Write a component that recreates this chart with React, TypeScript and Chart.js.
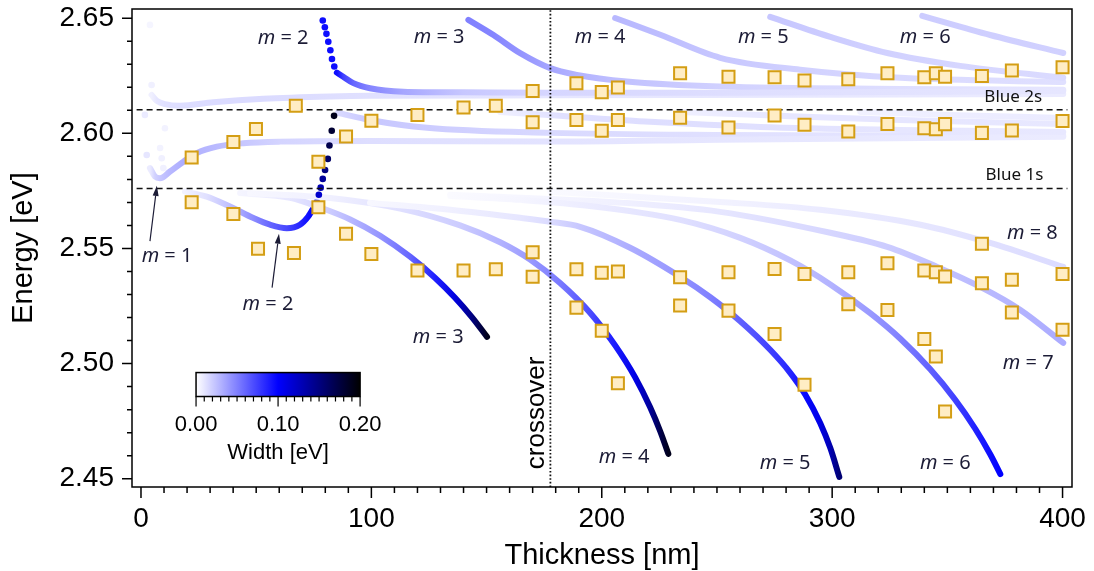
import React, { useEffect, useRef } from 'react';
import { Chart, registerables } from 'chart.js';

Chart.register(...registerables);

const AXIS_FONT = '"Liberation Sans", Arial, Helvetica, sans-serif';
const NOTE_FONT = '"Noto Sans", "Open Sans", sans-serif';

// ---- axes ----
const X_RANGE = [-3.9, 404.1];
const Y_RANGE = [2.4464, 2.654];
const X_STEP = 10;
const X_LABEL_EVERY = 100;
const Y_STEP = 0.01;
const Y_LABEL_EVERY = 0.05;

// ---- reference lines ----
const BLUE_1S = 2.576;
const BLUE_2S = 2.6102;
const REF_LINE_X = [-1.9, 402.1];
const CROSSOVER = 177.7;

// ---- measured resonances (squares) ----
const MEAS_X = [
  22.0, 22.0, 40.1, 40.1, 49.9, 50.8, 67.2, 66.4, 77.0, 77.0, 89.0, 89.0, 100.0, 100.0,
  120.0, 120.0, 140.0, 140.0, 154.0, 154.0,
  170.0, 170.0, 170.0, 170.0, 189.0, 189.0, 189.0, 189.0, 200.0, 200.0, 200.0, 200.0,
  207.0, 207.0, 207.0, 207.0, 234.0, 234.0, 234.0, 234.0, 255.0, 255.0, 255.0, 255.0,
  275.0, 275.0, 275.0, 275.0, 288.0, 288.0, 288.0, 288.0, 307.0, 307.0, 307.0, 307.0,
  324.0, 324.0, 324.0, 324.0, 340.0, 340.0, 340.0, 340.0, 345.0, 345.0, 345.0, 345.0,
  349.0, 349.0, 349.0, 349.0, 365.0, 365.0, 365.0, 365.0, 378.0, 378.0, 378.0, 378.0,
  400.0, 400.0, 400.0, 400.0,
];
const MEAS_E = [
  2.5895, 2.5701, 2.5962, 2.5650, 2.6019, 2.5499, 2.6120, 2.5480, 2.5877, 2.5679, 2.5986, 2.5564, 2.6055, 2.5476,
  2.6080, 2.5404, 2.6112, 2.5404, 2.6120, 2.5410,
  2.6184, 2.6048, 2.5484, 2.5377, 2.6218, 2.6058, 2.5410, 2.5243, 2.6179, 2.6011, 2.5395, 2.5143,
  2.6199, 2.6058, 2.5400, 2.4915, 2.6261, 2.6068, 2.5375, 2.5252, 2.6246, 2.6025, 2.5397, 2.5230,
  2.6244, 2.6077, 2.5411, 2.5128, 2.6229, 2.6037, 2.5389, 2.4908, 2.6235, 2.6008, 2.5397, 2.5258,
  2.6261, 2.6041, 2.5436, 2.5233, 2.6244, 2.6022, 2.5404, 2.5107, 2.6261, 2.6018, 2.5397, 2.5031,
  2.6246, 2.6040, 2.5378, 2.4792, 2.6249, 2.6002, 2.5520, 2.5349, 2.6273, 2.6012, 2.5364, 2.5222,
  2.6287, 2.6054, 2.5389, 2.5147,
];

// ---- calculated modes: thickness [nm], energy [eV], width [eV] ----
const M1_UP_X = [4.6, 6.9, 10.4, 16.9, 31.4, 53.1, 82.1, 99.4, 177.6, 300.0, 400.3];
const M1_UP_E = [2.6167, 2.6141, 2.6127, 2.612, 2.6135, 2.615, 2.616, 2.6163, 2.6165, 2.6168, 2.6171];
const M1_UP_W = [0.006, 0.01, 0.012, 0.013, 0.014, 0.014, 0.013, 0.012, 0.01, 0.009, 0.008];

const M1_MID_X = [3.9, 6.1, 8.25, 12.6, 18.4, 24.2, 32.9, 44.4, 60.4, 99.4, 177.6, 251.4, 400.3];
const M1_MID_E = [2.5849, 2.5812, 2.5805, 2.5834, 2.5877, 2.5914, 2.5942, 2.5957, 2.5964, 2.5967, 2.5964, 2.5972, 2.5985];
const M1_MID_W = [0.008, 0.018, 0.022, 0.028, 0.032, 0.03, 0.027, 0.022, 0.017, 0.013, 0.011, 0.01, 0.008];

const M2_LOW_X = [19.1, 28.5, 38.6, 48.8, 56.0, 63.3, 69.0, 72.6, 74.8, 76.3];
const M2_LOW_E = [2.5747, 2.5725, 2.5682, 2.5632, 2.5603, 2.5588, 2.5603, 2.5639, 2.5675, 2.5704];
const M2_LOW_W = [0.005, 0.012, 0.025, 0.045, 0.06, 0.072, 0.085, 0.095, 0.1, 0.108];

const M2_RISE_X = [77.2, 78.0, 78.9, 79.9, 81.1, 81.8, 82.8, 83.8];
const M2_RISE_E = [2.5733, 2.5764, 2.5802, 2.5841, 2.5889, 2.5947, 2.6011, 2.6076];
const M2_RISE_W = [0.12, 0.13, 0.14, 0.15, 0.16, 0.17, 0.18, 0.19];

const M2_DROP_X = [78.9, 79.8, 80.5, 81.3, 82.2, 82.9, 83.9];
const M2_DROP_E = [2.649, 2.6461, 2.6432, 2.6398, 2.6361, 2.6323, 2.629];
const M2_DROP_W = [0.095, 0.095, 0.095, 0.095, 0.095, 0.095, 0.095];

const M2_UP_X = [85.0, 87.8, 92.2, 99.4, 113.9, 140.0, 177.6, 251.4, 400.3];
const M2_UP_E = [2.6264, 2.6246, 2.6218, 2.6196, 2.6181, 2.6178, 2.6176, 2.6176, 2.6184];
const M2_UP_W = [0.095, 0.075, 0.06, 0.048, 0.035, 0.022, 0.016, 0.013, 0.01];

const M2_MID_X = [85.5, 99.4, 124.2, 177.6, 251.4, 400.3];
const M2_MID_E = [2.6089, 2.6058, 2.6024, 2.6002, 2.5993, 2.5989];
const M2_MID_W = [0.015, 0.022, 0.02, 0.015, 0.012, 0.009];

const M3_UP_X = [142.1, 153.0, 164.6, 177.6, 189.2, 210.9, 251.4, 329.6, 400.3];
const M3_UP_E = [2.6493, 2.6427, 2.6348, 2.6283, 2.6254, 2.6225, 2.6203, 2.6193, 2.6189];
const M3_UP_W = [0.05, 0.048, 0.042, 0.035, 0.03, 0.024, 0.018, 0.013, 0.01];

const M3_MID_X = [155.9, 181.9, 221.0, 268.8, 329.6, 400.3];
const M3_MID_E = [2.6093, 2.6076, 2.605, 2.6028, 2.6015, 2.6006];
const M3_MID_W = [0.006, 0.012, 0.013, 0.012, 0.01, 0.009];

const M3_LOW_X = [43.0, 64.7, 77.7, 90.8, 103.8, 116.8, 127.7, 136.3, 143.7, 150.2];
const M3_LOW_E = [2.5741, 2.572, 2.5678, 2.5626, 2.5555, 2.5464, 2.5372, 2.5286, 2.5201, 2.5116];
const M3_LOW_W = [0.004, 0.01, 0.016, 0.028, 0.042, 0.06, 0.088, 0.112, 0.15, 0.19];

const M4_UP_X = [205.8, 225.4, 251.4, 286.1, 329.6, 400.3];
const M4_UP_E = [2.6501, 2.6428, 2.6328, 2.6276, 2.6241, 2.6223];
const M4_UP_W = [0.028, 0.026, 0.022, 0.018, 0.015, 0.012];

const M4_MID_X = [234.0, 277.5, 329.6, 400.3];
const M4_MID_E = [2.6093, 2.6076, 2.6058, 2.6041];
const M4_MID_W = [0.006, 0.01, 0.01, 0.009];

const M4_LOW_X = [47.3, 82.1, 112.5, 138.5, 155.9, 168.9, 181.9, 195.0, 205.8, 214.5, 221.0, 225.4, 228.9];
const M4_LOW_E = [2.574, 2.5719, 2.5673, 2.56, 2.5527, 2.5452, 2.535, 2.522, 2.5079, 2.494, 2.481, 2.4705, 2.4608];
const M4_LOW_W = [0.003, 0.006, 0.012, 0.02, 0.03, 0.04, 0.052, 0.07, 0.09, 0.11, 0.14, 0.17, 0.19];

const M5_UP_X = [273.1, 299.2, 323.9, 355.6, 400.3];
const M5_UP_E = [2.6506, 2.6419, 2.6349, 2.6293, 2.6241];
const M5_UP_W = [0.022, 0.02, 0.018, 0.016, 0.014];

const M5_MID_X = [312.2, 355.0, 400.3];
const M5_MID_E = [2.6093, 2.6079, 2.6067];
const M5_MID_W = [0.005, 0.007, 0.008];

const M5_LOW_X = [99.4, 134.2, 164.6, 177.6, 190.6, 212.3, 234.0, 247.1, 260.1, 273.1, 281.8, 288.3, 294.8, 299.2, 303.1];
const M5_LOW_E = [2.5698, 2.5668, 2.5633, 2.5616, 2.5594, 2.5503, 2.5377, 2.5288, 2.5184, 2.506, 2.496, 2.4866, 2.4742, 2.4633, 2.4508];
const M5_LOW_W = [0.003, 0.006, 0.01, 0.014, 0.022, 0.032, 0.042, 0.05, 0.062, 0.075, 0.085, 0.097, 0.11, 0.13, 0.155];

const M6_UP_X = [339.1, 368.6, 400.3];
const M6_UP_E = [2.651, 2.6427, 2.6349];
const M6_UP_W = [0.02, 0.019, 0.018];

const M6_LOW_X = [134.2, 164.6, 190.6, 234.0, 260.1, 281.8, 299.2, 316.5, 329.6, 342.6, 353.4, 362.1, 368.6, 373.0];
const M6_LOW_E = [2.5728, 2.5711, 2.5689, 2.5624, 2.5546, 2.5448, 2.5344, 2.5219, 2.5108, 2.4975, 2.4843, 2.4717, 2.4606, 2.452];
const M6_LOW_W = [0.002, 0.004, 0.007, 0.012, 0.018, 0.024, 0.03, 0.04, 0.05, 0.062, 0.075, 0.087, 0.095, 0.1];

const M7_LOW_X = [134.2, 209.3, 251.4, 299.2, 323.9, 345.6, 364.3, 381.7, 400.3];
const M7_LOW_E = [2.5733, 2.5698, 2.5659, 2.5568, 2.5507, 2.542, 2.5333, 2.5233, 2.509];
const M7_LOW_W = [0.002, 0.006, 0.01, 0.016, 0.02, 0.024, 0.027, 0.03, 0.033];

const M8_LOW_X = [177.6, 251.4, 294.8, 338.3, 368.6, 400.3];
const M8_LOW_E = [2.5746, 2.5702, 2.5668, 2.5603, 2.5524, 2.542];
const M8_LOW_W = [0.002, 0.005, 0.008, 0.01, 0.012, 0.014];

const FAINT_X = [3.9, 4.6, 1.7, 10.4, 8.3, 2.5, 9.0, 9.7];
const FAINT_E = [2.6471, 2.621, 2.608, 2.6022, 2.5936, 2.5906, 2.5892, 2.5849];
const FAINT_W = [0.004, 0.006, 0.008, 0.005, 0.005, 0.01, 0.006, 0.006];

// ---- annotations ----
const MODE_LABEL_M = ['2', '3', '4', '5', '6', '1', '2', '3', '4', '5', '6', '7', '8'];
const MODE_LABEL_X = [61.7, 129.4, 199.3, 270.1, 340.4, 11.3, 55.1, 129.0, 209.7, 279.6, 349.1, 385.1, 386.9];
const MODE_LABEL_E = [2.6414, 2.6419, 2.6419, 2.6419, 2.6419, 2.5464, 2.5259, 2.5116, 2.4591, 2.4565, 2.4565, 2.5003, 2.5568];

const EXCITON_TEXT = ['Blue 2s', 'Blue 1s'];
const EXCITON_TEXT_X = [378.6, 379.1];
const EXCITON_TEXT_E = [2.6155, 2.5817];

const ARROW_FROM_X = [3.9, 56.9];
const ARROW_FROM_E = [2.5532, 2.533];
const ARROW_TO_X = [6.9, 59.9];
const ARROW_TO_E = [2.5772, 2.5564];

const CROSSOVER_TEXT_X = 171.9;
const CROSSOVER_TEXT_E = 2.4786;

// colour bar (width scale)
const CB_RANGE = [0, 0.2];
const CB_LABELS = [0, 0.1, 0.2];
const CB_NM = [23.9, 95.1];
const CB_E = [2.4961, 2.4857];

const widthColor = (w: number) => {
  const t = Math.max(0, Math.min(0.2, w));
  if (t <= 0.1) {
    const v = Math.round(255 * (1 - t / 0.1));
    return `rgb(${v},${v},255)`;
  }
  const b = Math.round(255 * (1 - (t - 0.1) / 0.1));
  return `rgb(0,0,${b})`;
};

type Curve = { xs: number[]; es: number[]; ws: number[]; dark?: boolean };

const CURVES: Curve[] = [
  { xs: M8_LOW_X, es: M8_LOW_E, ws: M8_LOW_W },
  { xs: M7_LOW_X, es: M7_LOW_E, ws: M7_LOW_W },
  { xs: M5_MID_X, es: M5_MID_E, ws: M5_MID_W },
  { xs: M4_MID_X, es: M4_MID_E, ws: M4_MID_W },
  { xs: M3_MID_X, es: M3_MID_E, ws: M3_MID_W },
  { xs: M1_UP_X, es: M1_UP_E, ws: M1_UP_W },
  { xs: M1_MID_X, es: M1_MID_E, ws: M1_MID_W },
  { xs: M2_MID_X, es: M2_MID_E, ws: M2_MID_W },
  { xs: M6_UP_X, es: M6_UP_E, ws: M6_UP_W },
  { xs: M5_UP_X, es: M5_UP_E, ws: M5_UP_W },
  { xs: M4_UP_X, es: M4_UP_E, ws: M4_UP_W },
  { xs: M3_UP_X, es: M3_UP_E, ws: M3_UP_W },
  { xs: M2_UP_X, es: M2_UP_E, ws: M2_UP_W, dark: true },
  { xs: M6_LOW_X, es: M6_LOW_E, ws: M6_LOW_W, dark: true },
  { xs: M5_LOW_X, es: M5_LOW_E, ws: M5_LOW_W, dark: true },
  { xs: M4_LOW_X, es: M4_LOW_E, ws: M4_LOW_W, dark: true },
  { xs: M3_LOW_X, es: M3_LOW_E, ws: M3_LOW_W, dark: true },
  { xs: M2_LOW_X, es: M2_LOW_E, ws: M2_LOW_W, dark: true },
];

const DOTS: Curve[] = [
  { xs: FAINT_X, es: FAINT_E, ws: FAINT_W },
  { xs: M2_DROP_X, es: M2_DROP_E, ws: M2_DROP_W },
  { xs: M2_RISE_X, es: M2_RISE_E, ws: M2_RISE_W },
];

function gradientFor(chart: any, xs: number[], ws: number[]) {
  const sx = chart.scales.x;
  if (!sx || !chart.chartArea) return widthColor(ws[0]);
  const p0 = sx.getPixelForValue(xs[0]);
  const p1 = sx.getPixelForValue(xs[xs.length - 1]);
  const g = chart.ctx.createLinearGradient(p0, 0, p1, 0);
  xs.forEach((x: number, i: number) => {
    const f = (sx.getPixelForValue(x) - p0) / (p1 - p0 || 1);
    g.addColorStop(Math.max(0, Math.min(1, f)), widthColor(ws[i]));
  });
  return g;
}

const zeroPadding = (s: any) => {
  s.paddingTop = 0;
  s.paddingBottom = 0;
  s.paddingLeft = 0;
  s.paddingRight = 0;
};

const overlayPlugin = {
  id: 'overlay',
  afterDraw(chart: any) {
    const { ctx, chartArea } = chart;
    const sx = chart.scales.x;
    const sy = chart.scales.y;
    const { left, right, top, bottom } = chartArea;
    ctx.save();
    // frame
    ctx.strokeStyle = '#000';
    ctx.lineWidth = 1.5;
    ctx.strokeRect(left, top, right - left, bottom - top);
    // tick marks
    ctx.beginPath();
    sx.ticks.forEach((t: any) => {
      const p = sx.getPixelForValue(t.value);
      const len = t.label !== '' ? 11 : 6;
      ctx.moveTo(p, bottom);
      ctx.lineTo(p, bottom + len);
    });
    sy.ticks.forEach((t: any) => {
      const p = sy.getPixelForValue(t.value);
      const len = t.label !== '' ? 10 : 5;
      ctx.moveTo(left, p);
      ctx.lineTo(left - len, p);
    });
    ctx.stroke();

    // mode labels
    ctx.fillStyle = '#1c1c36';
    ctx.textBaseline = 'middle';
    ctx.textAlign = 'left';
    MODE_LABEL_M.forEach((m, i) => {
      const cx = sx.getPixelForValue(MODE_LABEL_X[i]);
      const cy = sy.getPixelForValue(MODE_LABEL_E[i]);
      ctx.font = `italic 20px ${NOTE_FONT}`;
      const wm = ctx.measureText('m').width;
      ctx.font = `20px ${NOTE_FONT}`;
      const rest = ' = ' + m;
      const wr = ctx.measureText(rest).width;
      const x0 = cx - (wm + wr) / 2;
      ctx.font = `italic 20px ${NOTE_FONT}`;
      ctx.fillText('m', x0, cy);
      ctx.font = `20px ${NOTE_FONT}`;
      ctx.fillText(rest, x0 + wm, cy);
    });

    // exciton labels
    ctx.fillStyle = '#111';
    ctx.textAlign = 'center';
    ctx.font = `17px ${NOTE_FONT}`;
    EXCITON_TEXT.forEach((s, i) => {
      ctx.fillText(s, sx.getPixelForValue(EXCITON_TEXT_X[i]), sy.getPixelForValue(EXCITON_TEXT_E[i]));
    });

    // arrows
    ctx.strokeStyle = '#1c1c36';
    ctx.fillStyle = '#1c1c36';
    ctx.lineWidth = 1.2;
    ARROW_FROM_X.forEach((_, i) => {
      const x0 = sx.getPixelForValue(ARROW_FROM_X[i]);
      const y0 = sy.getPixelForValue(ARROW_FROM_E[i]);
      const x1 = sx.getPixelForValue(ARROW_TO_X[i]);
      const y1 = sy.getPixelForValue(ARROW_TO_E[i]);
      const a = Math.atan2(y1 - y0, x1 - x0);
      const hl = 10, hw = 3;
      const bx = x1 - hl * Math.cos(a), by = y1 - hl * Math.sin(a);
      ctx.beginPath();
      ctx.moveTo(x0, y0);
      ctx.lineTo(bx, by);
      ctx.stroke();
      ctx.beginPath();
      ctx.moveTo(x1, y1);
      ctx.lineTo(bx + hw * Math.sin(a), by - hw * Math.cos(a));
      ctx.lineTo(bx - hw * Math.sin(a), by + hw * Math.cos(a));
      ctx.closePath();
      ctx.fill();
    });

    // crossover label
    ctx.save();
    ctx.translate(sx.getPixelForValue(CROSSOVER_TEXT_X), sy.getPixelForValue(CROSSOVER_TEXT_E));
    ctx.rotate(-Math.PI / 2);
    ctx.fillStyle = '#000';
    ctx.font = `26px ${AXIS_FONT}`;
    ctx.textAlign = 'center';
    ctx.textBaseline = 'middle';
    ctx.fillText('crossover', 0, 0);
    ctx.restore();

    // colour bar
    const cx0 = sx.getPixelForValue(CB_NM[0]);
    const cx1 = sx.getPixelForValue(CB_NM[1]);
    const cyT = sy.getPixelForValue(CB_E[0]);
    const cyB = sy.getPixelForValue(CB_E[1]);
    const g = ctx.createLinearGradient(cx0, 0, cx1, 0);
    for (let k = 0; k <= 20; k++) {
      const w = CB_RANGE[0] + ((CB_RANGE[1] - CB_RANGE[0]) * k) / 20;
      g.addColorStop(k / 20, widthColor(w));
    }
    ctx.fillStyle = g;
    ctx.fillRect(cx0, cyT, cx1 - cx0, cyB - cyT);
    ctx.strokeStyle = '#000';
    ctx.lineWidth = 1.5;
    ctx.strokeRect(cx0, cyT, cx1 - cx0, cyB - cyT);
    ctx.beginPath();
    for (let k = 0; k <= 20; k++) {
      const px = cx0 + ((cx1 - cx0) * k) / 20;
      const len = k % 10 === 0 ? 10 : 5;
      ctx.moveTo(px, cyB);
      ctx.lineTo(px, cyB + len);
    }
    ctx.lineWidth = 1.2;
    ctx.stroke();
    ctx.fillStyle = '#000';
    ctx.font = `22px ${AXIS_FONT}`;
    ctx.textAlign = 'center';
    ctx.textBaseline = 'middle';
    CB_LABELS.forEach((v) => {
      const px = cx0 + ((cx1 - cx0) * (v - CB_RANGE[0])) / (CB_RANGE[1] - CB_RANGE[0]);
      ctx.fillText(v.toFixed(2), px, cyB + 28);
    });
    ctx.fillText('Width [eV]', (cx0 + cx1) / 2, cyB + 56);
    ctx.restore();
  },
};

export default function App() {
  const ref = useRef<HTMLCanvasElement | null>(null);
  useEffect(() => {
    if (!ref.current) return;
    const datasets: any[] = [];
    datasets.push({
      type: 'scatter',
      data: MEAS_X.map((x, i) => ({ x, y: MEAS_E[i] })),
      pointStyle: 'rect',
      pointRadius: 8.5,
      pointBackgroundColor: 'rgb(255,237,196)',
      pointBorderColor: 'rgb(212,158,20)',
      pointBorderWidth: 2,
      order: 0,
    });
    [BLUE_2S, BLUE_1S].forEach((e) => {
      datasets.push({
        type: 'line',
        data: REF_LINE_X.map((x) => ({ x, y: e })),
        borderColor: '#111',
        borderWidth: 1.5,
        borderDash: [6, 4],
        pointRadius: 0,
        fill: false,
        order: 1,
      });
    });
    datasets.push({
      type: 'line',
      data: Y_RANGE.map((y) => ({ x: CROSSOVER, y })),
      borderColor: '#111',
      borderWidth: 1.8,
      borderDash: [1.6, 2.0],
      pointRadius: 0,
      fill: false,
      order: 1,
    });
    DOTS.forEach((c) => {
      datasets.push({
        type: 'scatter',
        data: c.xs.map((x, i) => ({ x, y: c.es[i] })),
        pointRadius: 3.3,
        pointBackgroundColor: (ctx: any) => widthColor(c.ws[ctx.dataIndex] ?? 0),
        pointBorderColor: (ctx: any) => widthColor(c.ws[ctx.dataIndex] ?? 0),
        pointBorderWidth: 0,
        order: 2,
      });
    });
    CURVES.forEach((c) => {
      datasets.push({
        type: 'line',
        data: c.xs.map((x, i) => ({ x, y: c.es[i] })),
        borderColor: (ctx: any) => gradientFor(ctx.chart, c.xs, c.ws),
        borderWidth: 6,
        borderCapStyle: 'round',
        borderJoinStyle: 'round',
        cubicInterpolationMode: 'monotone',
        pointRadius: 0,
        fill: false,
        order: c.dark ? 3 : 5,
      });
    });

    const chart = new Chart(ref.current, {
      type: 'scatter',
      data: { datasets },
      options: {
        responsive: false,
        animation: false,
        devicePixelRatio: 1,
        events: [],
        layout: { padding: { left: 0, top: 9, right: 22, bottom: 0 }, autoPadding: false },
        plugins: { legend: { display: false }, tooltip: { enabled: false } },
        scales: {
          x: {
            type: 'linear',
            min: X_RANGE[0],
            max: X_RANGE[1],
            afterFit: (s: any) => {
              s.height = 84;
              zeroPadding(s);
            },
            grid: { display: false, drawTicks: false },
            border: { display: false },
            ticks: {
              stepSize: X_STEP,
              autoSkip: false,
              maxRotation: 0,
              includeBounds: false,
              padding: 15,
              color: '#000',
              font: { family: AXIS_FONT, size: 28 },
              callback: (v: any) => {
                const k = Math.round(v / X_LABEL_EVERY);
                return Math.abs(v - k * X_LABEL_EVERY) < 1e-6 ? String(k * X_LABEL_EVERY) : '';
              },
            },
            title: {
              display: true,
              text: 'Thickness [nm]',
              color: '#000',
              font: { family: AXIS_FONT, size: 29, lineHeight: 1 },
              padding: { top: 0, bottom: 0.5 },
            },
          },
          y: {
            type: 'linear',
            min: Y_RANGE[0],
            max: Y_RANGE[1],
            afterFit: (s: any) => {
              s.width = 132;
              zeroPadding(s);
            },
            grid: { display: false, drawTicks: false },
            border: { display: false },
            ticks: {
              stepSize: Y_STEP,
              autoSkip: false,
              includeBounds: false,
              padding: 18,
              color: '#000',
              font: { family: AXIS_FONT, size: 28 },
              callback: (v: any) => {
                const k = Math.round(v / Y_LABEL_EVERY);
                return Math.abs(v - k * Y_LABEL_EVERY) < 1e-6 ? (k * Y_LABEL_EVERY).toFixed(2) : '';
              },
            },
            title: {
              display: true,
              text: 'Energy [eV]',
              color: '#000',
              font: { family: AXIS_FONT, size: 29, lineHeight: 1 },
              padding: { top: 9, bottom: 0 },
            },
          },
        },
      } as any,
      plugins: [overlayPlugin],
    });
    return () => chart.destroy();
  }, []);

  return (
    <div style={{ position: 'fixed', left: 0, top: 0, width: 1094, height: 571, background: '#fff' }}>
      <canvas ref={ref} width={1094} height={571} style={{ width: 1094, height: 571, display: 'block' }} />
    </div>
  );
}
